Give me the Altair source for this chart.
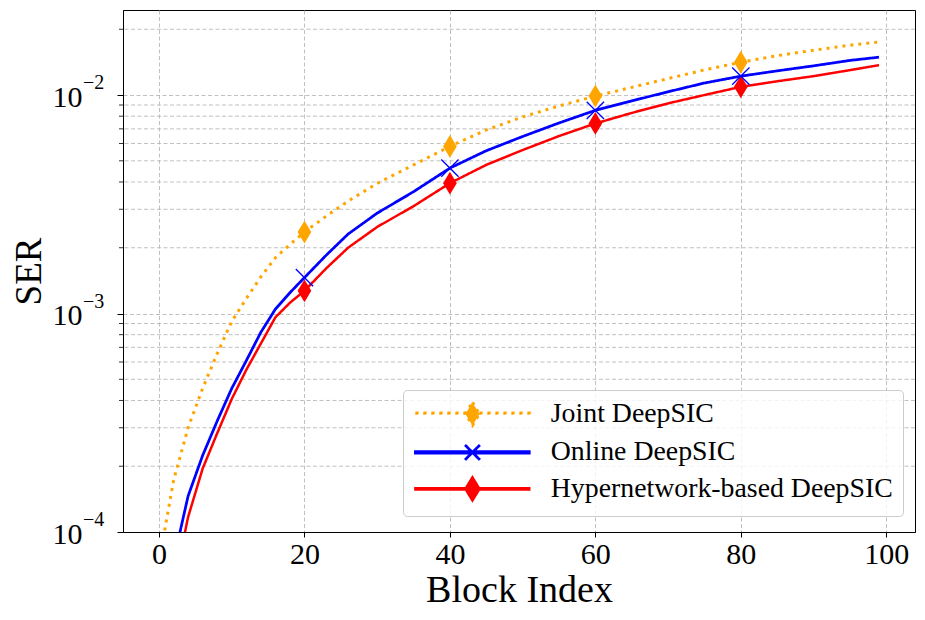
import altair as alt
import pandas as pd

# ---- data ----
blocks = [0, 2, 4, 6, 8, 10, 12, 14, 16, 18, 20, 23, 26, 30, 35, 40, 45, 50,
          55, 60, 65, 70, 75, 80, 85, 90, 95, 99]
joint = [7.3e-5, 1.72e-4, 3.0e-4, 4.55e-4, 6.55e-4, 9.2e-4, 1.17e-3, 1.47e-3,
         1.80e-3, 2.07e-3, 2.36e-3, 2.79e-3, 3.27e-3, 3.94e-3, 4.79e-3, 5.82e-3,
         6.92e-3, 7.94e-3, 8.91e-3, 9.89e-3, 1.084e-2, 1.189e-2, 1.303e-2,
         1.413e-2, 1.514e-2, 1.603e-2, 1.690e-2, 1.750e-2]
online = [3.2e-5, 7.4e-5, 1.46e-4, 2.24e-4, 3.22e-4, 4.54e-4, 6.08e-4, 8.2e-4,
          1.047e-3, 1.245e-3, 1.46e-3, 1.85e-3, 2.31e-3, 2.88e-3, 3.61e-3, 4.63e-3,
          5.56e-3, 6.46e-3, 7.45e-3, 8.51e-3, 9.4e-3, 1.035e-2, 1.135e-2,
          1.22e-2, 1.29e-2, 1.36e-2, 1.44e-2, 1.49e-2]
hyper = [2.5e-5, 5.6e-5, 1.17e-4, 1.95e-4, 2.83e-4, 4.06e-4, 5.52e-4, 7.28e-4,
         9.6e-4, 1.12e-3, 1.27e-3, 1.61e-3, 2.0e-3, 2.49e-3, 3.10e-3, 3.95e-3,
         4.79e-3, 5.60e-3, 6.49e-3, 7.41e-3, 8.28e-3, 9.16e-3, 1.0e-2, 1.09e-2,
         1.156e-2, 1.22e-2, 1.30e-2, 1.37e-2]
series_names = ["Joint DeepSIC", "Online DeepSIC", "Hypernetwork-based DeepSIC"]
series_colors = ["#FFA500", "#0000FF", "#FF0000"]
marker_blocks = [20, 40, 60, 80]
x_ticks = [0, 20, 40, 60, 80, 100]
y_major = [1e-4, 1e-3, 1e-2]
y_exponents = ["\u22124", "\u22123", "\u22122"]
y_minor = [2e-4, 3e-4, 4e-4, 5e-4, 6e-4, 7e-4, 8e-4, 9e-4,
           2e-3, 3e-3, 4e-3, 5e-3, 6e-3, 7e-3, 8e-3, 9e-3, 2e-2]

rows = []
for name, vals in zip(series_names, [joint, online, hyper]):
    for b, v in zip(blocks, vals):
        rows.append({"block": b, "ser": v, "series": name})
df = pd.DataFrame(rows)
mk = df[df["block"].isin(marker_blocks)]
minor_df = pd.DataFrame({"ser": y_minor})
exp_df = pd.DataFrame({"ser": y_major, "lab": y_exponents})

FONT = "Liberation Serif"
GRID = "#b0b0b0"

xscale = alt.Scale(domain=[-4.95, 103.95], nice=False, zero=False)
yscale = alt.Scale(type="log", domain=[1e-4, 0.0245], nice=False)
cscale = alt.Scale(domain=series_names, range=series_colors)
dscale = alt.Scale(domain=series_names, range=[[3, 5], [1, 0], [1, 0]])
wscale = alt.Scale(domain=series_names, range=[3, 2.5, 2.5])

xaxis = alt.Axis(values=x_ticks, format="d", grid=True, gridDash=[4, 2.5],
                 gridColor=GRID, gridWidth=0.8, domainColor="black",
                 tickColor="black", tickSize=5, labelPadding=2,
                 labelFont=FONT, labelFontSize=30, labelColor="black",
                 titleFont=FONT, titleFontSize=38, titleFontWeight="normal",
                 titleColor="black", titlePadding=2)
yaxis = alt.Axis(values=y_major, grid=True, gridDash=[4, 2.5], gridColor=GRID,
                 gridWidth=0.8, domainColor="black", tickColor="black",
                 tickSize=6, labelPadding=35, labelOffset=2,
                 labelExpr="'10'",
                 labelFont=FONT, labelFontSize=30, labelColor="black",
                 titleFont=FONT, titleFontSize=37, titleFontWeight="normal",
                 titleColor="black", titlePadding=4)

X = alt.X("block:Q", scale=xscale, axis=xaxis, title="Block Index")
Y = alt.Y("ser:Q", scale=yscale, axis=yaxis, title="SER")

# legend symbols (line sample + marker), drawn in symbol units
line_sample = "M-1,-0.057H8.9V0.057H-1Z"
dotted_sample = "".join(
    "M%.3f,-0.078h0.157v0.156h-0.157Z" % (-1 + 0.696 * k) for k in range(15))
diamond_sym = "M3.96,-1L4.57,0L3.96,1L3.35,0Z"
cross_sym = "M3.31,-0.65L4.61,0.65M3.31,0.65L4.61,-0.65"
leg_paths = [dotted_sample + diamond_sym, line_sample + cross_sym,
             line_sample + diamond_sym]

leg = alt.Legend(title=None, orient="none", legendX=280, legendY=380,
                 symbolSize=529, symbolStrokeWidth=1.2, symbolOpacity=1,
                 labelFont=FONT, labelFontSize=27.8, labelColor="black",
                 labelOffset=110, labelLimit=0, rowPadding=5.5, padding=10,
                 strokeColor="#cccccc", fillColor="rgba(255,255,255,0.8)",
                 cornerRadius=4)
# legend carrier layer (first, so its legend settings win the merge);
# its own marks sit outside the clipped plot area
legend_layer = alt.Chart(mk).transform_filter(alt.datum.block == 20).mark_point(
    filled=True, clip=True).encode(
    x=alt.value(-1000), y=alt.value(-1000),
    color=alt.Color("series:N", scale=cscale, legend=leg),
    shape=alt.Shape("series:N", scale=alt.Scale(domain=series_names, range=leg_paths), legend=leg),
)

minor = alt.Chart(minor_df).mark_rule(color=GRID, strokeWidth=0.8,
                                      strokeDash=[4, 2.5]).encode(y=Y)
minor_ticks = alt.Chart(minor_df).mark_rule(color="black", strokeWidth=0.8).encode(
    y=Y, x=alt.value(-4), x2=alt.value(0))

exps = alt.Chart(exp_df).mark_text(align="left", baseline="middle", dy=-12,
                                   font=FONT, fontSize=20, color="black").encode(
    y=Y, x=alt.value(-40), text="lab:N")

lines = alt.Chart(df).mark_line(clip=True).encode(
    x=X, y=Y,
    color=alt.Color("series:N", scale=cscale, legend=None),
    strokeDash=alt.StrokeDash("series:N", scale=dscale, legend=None),
    strokeWidth=alt.StrokeWidth("series:N", scale=wscale, legend=None),
)

diamonds = alt.Chart(mk).transform_filter(
    alt.datum.series != "Online DeepSIC"
).mark_point(filled=True, shape="M0,-1L0.6,0L0,1L-0.6,0Z", size=520,
             opacity=1, strokeWidth=0.5).encode(
    x=X, y=Y, color=alt.Color("series:N", scale=cscale, legend=None))

crosses = alt.Chart(mk).transform_filter(
    alt.datum.series == "Online DeepSIC"
).mark_point(filled=False, shape="M-1,-1L1,1M-1,1L1,-1", size=300,
             opacity=1, strokeWidth=1.3).encode(
    x=X, y=Y, color=alt.Color("series:N", scale=cscale, legend=None))

chart = alt.layer(legend_layer, minor, minor_ticks, exps, lines, diamonds, crosses).properties(
    width=792, height=522,
    padding={"left": 115, "top": 2, "right": 2, "bottom": 80},
    autosize=alt.AutoSizeParams(type="none"),
    background="white",
).configure_view(stroke="black", strokeWidth=1)

chart.save("out.html", embed_options={"renderer": "svg", "actions": False})
